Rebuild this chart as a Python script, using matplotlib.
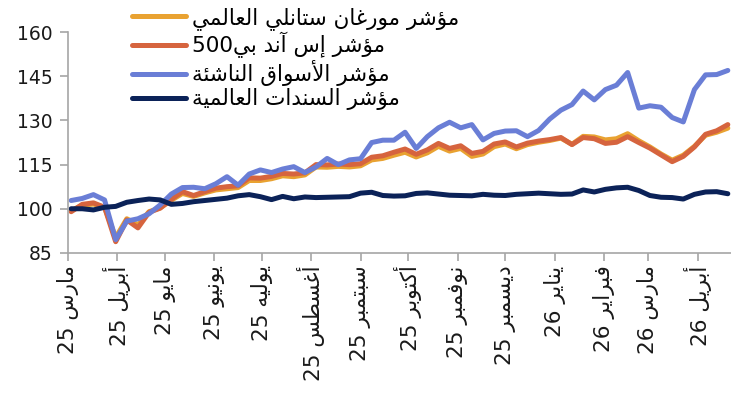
import re
import pandas as pd
import matplotlib
matplotlib.use("Agg")
import matplotlib.pyplot as plt
import matplotlib.dates as mdates

# Weekly dates (Mondays) read along the x axis
dates = pd.date_range("2025-03-03", periods=60, freq="7D")

# Values (rebased to 100)
msci_world = [99.3, 101.2, 101.6, 100.5, 90.2, 96.6, 94.5, 99.0, 100.3, 102.9,
              105.2, 104.2, 105.4, 106.4, 106.8, 107.2, 109.6, 109.6, 110.2, 111.2,
              110.9, 111.5, 114.2, 114.1, 114.4, 114.2, 114.6, 116.6, 117.1, 118.2,
              119.2, 117.6, 119.0, 121.2, 119.6, 120.5, 117.8, 118.6, 121.1, 122.0,
              120.4, 121.8, 122.6, 123.2, 124.0, 121.9, 124.6, 124.4, 123.4, 123.8,
              125.5, 123.1, 121.0, 118.6, 116.5, 118.2, 121.2, 125.0, 126.0, 127.4]
sp500 = [99.0, 101.5, 102.0, 100.5, 88.8, 96.2, 93.5, 98.8, 100.2, 103.2,
         105.8, 104.5, 105.8, 107.0, 107.5, 107.8, 110.5, 110.4, 111.0, 112.0,
         111.8, 112.2, 115.0, 114.9, 115.2, 115.0, 115.3, 117.5, 118.0, 119.2,
         120.3, 118.5, 120.0, 122.2, 120.5, 121.4, 118.8, 119.5, 122.0, 122.7,
         121.0, 122.3, 123.0, 123.5, 124.2, 121.8, 124.2, 123.8, 122.2, 122.6,
         124.5, 122.5, 120.6, 118.3, 116.0, 117.8, 121.0, 125.3, 126.5, 128.6]
emerging = [102.8, 103.5, 104.8, 103.0, 89.5, 95.8, 96.6, 98.3, 101.3, 105.0,
            107.2, 107.3, 106.8, 108.5, 110.9, 108.0, 111.8, 113.2, 112.3, 113.5,
            114.3, 112.3, 114.2, 117.1, 115.0, 116.6, 117.0, 122.5, 123.3, 123.3,
            126.0, 120.5, 124.5, 127.5, 129.4, 127.5, 128.6, 123.4, 125.6, 126.4,
            126.5, 124.5, 126.6, 130.5, 133.5, 135.4, 140.0, 137.0, 140.5, 142.0,
            146.3, 134.2, 135.0, 134.5, 131.0, 129.5, 140.5, 145.5, 145.6, 147.0]
bonds = [100.0, 100.0, 99.6, 100.5, 100.8, 102.2, 102.8, 103.3, 103.0, 101.5,
         101.8, 102.4, 102.8, 103.2, 103.6, 104.4, 104.8, 104.1, 103.1, 104.2,
         103.4, 104.0, 103.8, 103.9, 104.0, 104.1, 105.3, 105.6, 104.5, 104.3,
         104.4, 105.2, 105.4, 105.0, 104.6, 104.5, 104.4, 104.9, 104.6, 104.5,
         104.9, 105.1, 105.3, 105.1, 104.9, 105.0, 106.4, 105.7, 106.6, 107.1,
         107.3, 106.2, 104.5, 103.9, 103.8, 103.3, 104.9, 105.7, 105.8, 105.1]

series_names = ["مؤشر مورغان ستانلي العالمي", "مؤشر إس آند بي500",
                "مؤشر الأسواق الناشئة", "مؤشر السندات العالمية"]
series_colors = ["#E9A231", "#D6643E", "#6A7ED6", "#0B2258"]

month_names = ["مارس", "أبريل", "مايو", "يونيو", "يوليه", "أغسطس", "سبتمبر",
               "أكتوبر", "نوفمبر", "ديسمبر", "يناير", "فبراير", "مارس", "أبريل"]
month_years = ["25"] * 10 + ["26"] * 4
tick_dates = pd.date_range("2025-03-01", periods=14, freq="MS")

y_ticks = [85, 100, 115, 130, 145, 160]


# --- minimal Arabic shaping + right-to-left ordering (no shaping in matplotlib) ---
# letter -> (isolated form code, joins on both sides)
FORMS = {
    "ء": (0xFE80, False), "آ": (0xFE81, False), "أ": (0xFE83, False),
    "ؤ": (0xFE85, False), "إ": (0xFE87, False), "ئ": (0xFE89, True),
    "ا": (0xFE8D, False), "ب": (0xFE8F, True), "ة": (0xFE93, False),
    "ت": (0xFE95, True), "ث": (0xFE99, True), "ج": (0xFE9D, True),
    "ح": (0xFEA1, True), "خ": (0xFEA5, True), "د": (0xFEA9, False),
    "ذ": (0xFEAB, False), "ر": (0xFEAD, False), "ز": (0xFEAF, False),
    "س": (0xFEB1, True), "ش": (0xFEB5, True), "ص": (0xFEB9, True),
    "ض": (0xFEBD, True), "ط": (0xFEC1, True), "ظ": (0xFEC5, True),
    "ع": (0xFEC9, True), "غ": (0xFECD, True), "ف": (0xFED1, True),
    "ق": (0xFED5, True), "ك": (0xFED9, True), "ل": (0xFEDD, True),
    "م": (0xFEE1, True), "ن": (0xFEE5, True), "ه": (0xFEE9, True),
    "و": (0xFEED, False), "ى": (0xFEEF, False), "ي": (0xFEF1, True),
}
LAM_ALEF = {"آ": 0xFEF5, "أ": 0xFEF7, "إ": 0xFEF9, "ا": 0xFEFB}


def arabic(text):
    out = []
    i = 0
    n = len(text)
    while i < n:
        c = text[i]
        if c not in FORMS:
            out.append(c)
            i += 1
            continue
        prev = text[i - 1] if i > 0 else ""
        prev_joins = prev in FORMS and FORMS[prev][1]
        if c == "ل" and i + 1 < n and text[i + 1] in LAM_ALEF:
            out.append(chr(LAM_ALEF[text[i + 1]] + (1 if prev_joins else 0)))
            i += 2
            continue
        nxt = text[i + 1] if i + 1 < n else ""
        base, dual = FORMS[c]
        next_joins = dual and nxt in FORMS
        if prev_joins and next_joins:
            out.append(chr(base + 3))
        elif next_joins:
            out.append(chr(base + 2))
        elif prev_joins:
            out.append(chr(base + 1))
        else:
            out.append(chr(base))
        i += 1
    vis = "".join(out)[::-1]
    return re.sub(r"[0-9]+", lambda m: m.group(0)[::-1], vis)


plt.rcParams["font.family"] = ["DejaVu Sans"]

fig = plt.figure(figsize=(7.31, 4.18), dpi=100)
ax = fig.add_axes([0.093, 0.395, 0.907, 0.528])

all_series = [msci_world, sp500, emerging, bonds]
for vals, name, col in zip(all_series, series_names, series_colors):
    ax.plot(dates, vals, color=col, lw=3.6, label=arabic(name),
            solid_joinstyle="round", solid_capstyle="round")

ax.set_ylim(85, 160)
ax.set_yticks(y_ticks)
ax.set_xlim(mdates.date2num(pd.Timestamp("2025-03-01")),
            mdates.date2num(pd.Timestamp("2025-03-01")) + 417)
ax.set_xticks(tick_dates)
ax.set_xticklabels([arabic(m + " " + y) for m, y in zip(month_names, month_years)],
                   rotation=90, ha="center", va="top", fontsize=15.5)

for s in ["top", "right"]:
    ax.spines[s].set_visible(False)
for s in ["left", "bottom"]:
    ax.spines[s].set_color("#A6A6A6")
    ax.spines[s].set_linewidth(1.2)
ax.tick_params(axis="both", direction="out", length=6, width=1.2,
               color="#A6A6A6", labelcolor="#1a1a1a")
ax.tick_params(axis="y", labelsize=13.5, pad=5)
ax.tick_params(axis="x", pad=3)

fig.legend(loc="upper left", bbox_to_anchor=(0.16, 1.02), frameon=False,
           fontsize=15.5, handlelength=2.5, handletextpad=0.3,
           labelspacing=0.1, borderpad=0.2)

fig.savefig("out.png", dpi=100)
